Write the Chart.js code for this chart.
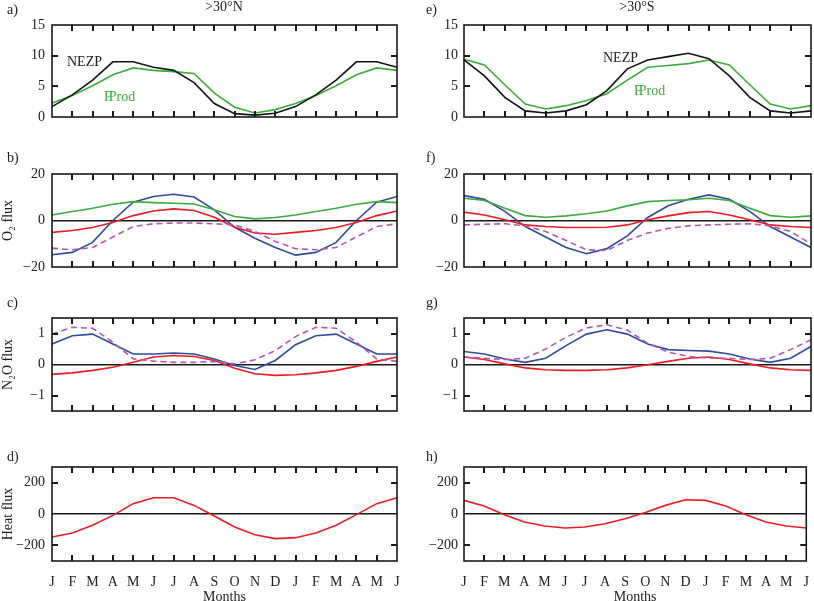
<!DOCTYPE html>
<html><head><meta charset="utf-8">
<script src="https://cdn.jsdelivr.net/npm/chart.js@4.4.1/dist/chart.umd.min.js"></script>
<style>
html,body{margin:0;padding:0;background:#fff;overflow:hidden;width:814px;height:601px;position:relative;}
.w{position:absolute;}
.t{position:absolute;font-family:"Liberation Serif","DejaVu Serif",serif;font-size:14px;line-height:16px;color:#222;white-space:nowrap;}
</style></head><body>
<script>
// ---------- data ----------
const months = ['J','F','M','A','M','J','J','A','S','O','N','D','J','F','M','A','M','J'];
const tickProd = [0,5,10,15];
const tickO2 = [-20,0,20];
const tickN2O = [-1,0,1];
const tickHeat = [-200,0,200];

// >30°N
const nezpN  = [1.7,3.6,6.0,9.0,9.0,8.1,7.6,5.6,2.2,0.55,0.3,0.6,1.7,3.6,6.0,9.0,9.0,8.1];
const fprodN = [2.3,3.5,5.1,6.9,8.0,7.6,7.4,7.1,3.9,1.6,0.65,1.2,2.2,3.5,5.1,6.9,8.0,7.6];
const o2GreenN = [2.4,3.9,5.3,7.0,8.1,7.7,7.4,7.1,4.6,1.7,0.7,1.3,2.4,3.9,5.3,7.0,8.1,7.7];
const o2BlueN  = [-14.7,-13.7,-9.4,0,7.9,10.3,11.3,10.1,4.6,-2.9,-7.6,-11.6,-14.9,-13.7,-9.4,0,7.9,10.3];
const o2RedN   = [-5.1,-4.3,-3.0,-0.9,2.1,4.1,5.0,4.3,1.4,-2.9,-5.4,-5.9,-5.1,-4.3,-3.0,-0.9,2.1,4.1];
const o2DashN  = [-11.9,-12.6,-11.6,-7.1,-2.6,-1.4,-1.1,-1.1,-1.4,-1.9,-4.7,-9.0,-12.1,-12.6,-11.6,-7.1,-2.6,-1.4];
const n2oBlueN = [0.66,0.93,0.98,0.66,0.34,0.34,0.37,0.34,0.18,-0.03,-0.16,0.13,0.64,0.93,0.98,0.66,0.34,0.34];
const n2oDashN = [0.98,1.2,1.17,0.72,0.18,0.11,0.07,0.07,0.1,0.02,0.15,0.45,0.9,1.2,1.17,0.72,0.18,0.1];
const n2oRedN  = [-0.32,-0.27,-0.19,-0.09,0.07,0.24,0.29,0.26,0.13,-0.12,-0.3,-0.35,-0.33,-0.27,-0.19,-0.06,0.1,0.24];
const heatN    = [-147,-121,-72,-9,66,104,104,55,-13,-83,-132,-157,-151,-121,-72,-4,66,104];

// >30°S
const nezpS  = [9.3,6.7,3.2,1.0,0.65,1.0,2.0,4.3,7.85,9.3,9.85,10.4,9.5,6.7,3.2,1.0,0.65,1.0];
const fprodS = [9.4,8.5,5.25,2.1,1.3,1.85,2.7,3.8,6.0,8.1,8.4,8.7,9.3,8.5,5.25,2.1,1.3,1.85];
const o2GreenS = [9.6,8.6,5.3,2.1,1.4,2.0,2.9,4.1,6.3,8.1,8.6,8.9,9.6,8.6,5.3,2.1,1.4,2.0];
const o2BlueS  = [10.7,9.1,3.9,-2.6,-7.1,-11.6,-14.3,-12.1,-6.6,1.3,6.3,9.1,11.0,9.1,3.9,-2.6,-7.1,-11.6];
const o2RedS   = [3.6,2.4,0.3,-1.9,-2.6,-3.0,-3.0,-2.9,-1.9,0.3,2.0,3.4,3.9,2.4,0.3,-1.9,-2.6,-3.0];
const o2DashS  = [-1.9,-1.6,-1.4,-2.3,-4.7,-8.6,-12.6,-12.9,-8.6,-5.4,-3.4,-2.3,-1.9,-1.6,-1.4,-2.3,-4.7,-10.1];
const n2oBlueS = [0.42,0.34,0.18,0.07,0.2,0.61,0.98,1.12,0.98,0.66,0.48,0.45,0.43,0.34,0.18,0.07,0.2,0.58];
const n2oDashS = [0.24,0.2,0.16,0.2,0.5,0.88,1.18,1.28,1.11,0.68,0.4,0.26,0.21,0.2,0.16,0.2,0.48,0.8];
const n2oRedS  = [0.24,0.16,0.02,-0.11,-0.17,-0.19,-0.19,-0.17,-0.11,-0.01,0.1,0.2,0.24,0.16,0.02,-0.11,-0.17,-0.19];
const heatS    = [87,51,-5,-51,-77,-89,-83,-62,-30,9,55,91,87,51,-5,-51,-77,-89];

// ---------- styling ----------
const C = {black:'#141414', green:'#3cac3c', blue:'#2f4b9f', red:'#ec1c24', mag:'#b357b3'};
const FONT = '"Liberation Serif","DejaVu Serif",serif';
const cols = [{x:0,w:405,l:52,r:397,yt:true},{x:405,w:409,l:464,r:811,yt:false}];
const rows = [{y:0,h:137,top:25,bot:117},{y:140,h:147,top:174,bot:267},{y:290,h:141,top:318,bot:411},{y:435,h:175,top:467,bot:561}];

const frame = {
  id:'frame',
  afterDraw(chart){
    const ctx = chart.ctx, a = chart.chartArea;
    const x = chart.scales.x, y = chart.scales.y;
    const n = months.length;
    ctx.save();
    ctx.setLineDash([]);
    ctx.fillStyle='#1a1a1a';
    for (let i=1;i<n-1;i++){
      const px = Math.round(x.getPixelForValue(i));
      ctx.fillRect(px-1, a.bottom-6, 2, 6);
      ctx.fillRect(px-1, a.top, 2, 6);
    }
    y.ticks.map(t=>t.value).forEach(v=>{
      if (v<=y.min || v>=y.max || v===0) return;
      const py = Math.round(y.getPixelForValue(v));
      ctx.fillRect(a.left, py-1, 6, 2);
      ctx.fillRect(a.right-6, py-1, 6, 2);
    });
    ctx.strokeStyle='#1a1a1a'; ctx.lineWidth=1.6;
    ctx.strokeRect(a.left,a.top,a.right-a.left,a.bottom-a.top);
    ctx.restore();
  }
};

function ds(data,color,dash){
  return {data, borderColor:color, borderWidth:1.6, borderDash:dash?[6,4]:[], pointRadius:0, tension:0, fill:false};
}

function panel(ci, ri, datasets, min, max, ticks, ytitle){
  const col = cols[ci], row = rows[ri];
  const div = document.createElement('div');
  div.className='w';
  div.style.left=col.x+'px'; div.style.top=row.y+'px';
  div.style.width=col.w+'px'; div.style.height=row.h+'px';
  const cv = document.createElement('canvas');
  cv.width=col.w; cv.height=row.h;
  cv.style.width=col.w+'px'; cv.style.height=row.h+'px';
  div.appendChild(cv); document.body.appendChild(div);
  const bottomRow = ri===3;
  new Chart(cv,{
    type:'line',
    data:{labels:months, datasets},
    plugins:[frame],
    options:{
      responsive:false, animation:false,
      layout:{padding:{top:row.top-row.y, right:col.x+col.w-col.r, left:0, bottom:0}},
      plugins:{legend:{display:false}, tooltip:{enabled:false}},
      scales:{
        x:{
          offset:false,
          grid:{display:false},
          border:{display:false},
          ticks:{display:bottomRow, autoSkip:false, maxRotation:0, padding:5, color:'#222', font:{family:FONT,size:14}},
          title:{display:bottomRow, text:'Months', color:'#222', font:{family:FONT,size:14}, padding:{top:0,bottom:4}},
          afterFit(s){ s.height = row.y+row.h-row.bot; }
        },
        y:{
          min, max,
          afterBuildTicks(s){ s.ticks = ticks.map(v=>({value:v})); },
          grid:{drawTicks:false, lineWidth:1.5, color:(c)=> (c.tick && c.tick.value===0 && min<0) ? '#1a1a1a' : 'rgba(0,0,0,0)'},
          border:{display:false},
          ticks:{padding:col.yt?7:6, color:'#222', font:{family:FONT,size:14}, callback:(v)=> String(v).replace('-','\u2212')},
          title:{display:!!ytitle, text:ytitle||'', color:'#222', font:{family:FONT,size:14}, padding:{top:0,bottom:0}},
          afterFit(s){ s.width = col.l-col.x; }
        }
      }
    }
  });
}

panel(0,0,[ds(nezpN,C.black),ds(fprodN,C.green)],0,15,tickProd,null);
panel(0,1,[ds(o2GreenN,C.green),ds(o2DashN,C.mag,true),ds(o2RedN,C.red),ds(o2BlueN,C.blue)],-20,20,tickO2,'O\u2082 flux');
panel(0,2,[ds(n2oDashN,C.mag,true),ds(n2oRedN,C.red),ds(n2oBlueN,C.blue)],-1.5,1.5,tickN2O,'N\u2082O flux');
panel(0,3,[ds(heatN,C.red)],-300,300,tickHeat,'Heat flux');
panel(1,0,[ds(nezpS,C.black),ds(fprodS,C.green)],0,15,tickProd,null);
panel(1,1,[ds(o2GreenS,C.green),ds(o2DashS,C.mag,true),ds(o2RedS,C.red),ds(o2BlueS,C.blue)],-20,20,tickO2,null);
panel(1,2,[ds(n2oDashS,C.mag,true),ds(n2oRedS,C.red),ds(n2oBlueS,C.blue)],-1.5,1.5,tickN2O,null);
panel(1,3,[ds(heatS,C.red)],-300,300,tickHeat,null);

// ---------- text annotations ----------
function txt(s,x,y,color,center){
  const d=document.createElement('div'); d.className='t';
  d.innerHTML=s; d.style.top=(y-8)+'px';
  if(center){ d.style.left=(x-100)+'px'; d.style.width='200px'; d.style.textAlign='center'; }
  else d.style.left=x+'px';
  if(color) d.style.color=color;
  document.body.appendChild(d);
}
txt('a)',7,10); txt('b)',7,158); txt('c)',7,303); txt('d)',7,457);
txt('e)',426,10); txt('f)',426,158); txt('g)',426,303); txt('h)',426,457);
txt('&gt;30°N',224,7,null,true); txt('&gt;30°S',637,7,null,true);
txt('NEZP',67,62,'#222'); txt('<span style="margin-right:-3px">F</span>Prod',104,97,C.green);
txt('NEZP',603,58,'#222'); txt('<span style="margin-right:-3px">F</span>Prod',634,91,C.green);
</script>
</body></html>
